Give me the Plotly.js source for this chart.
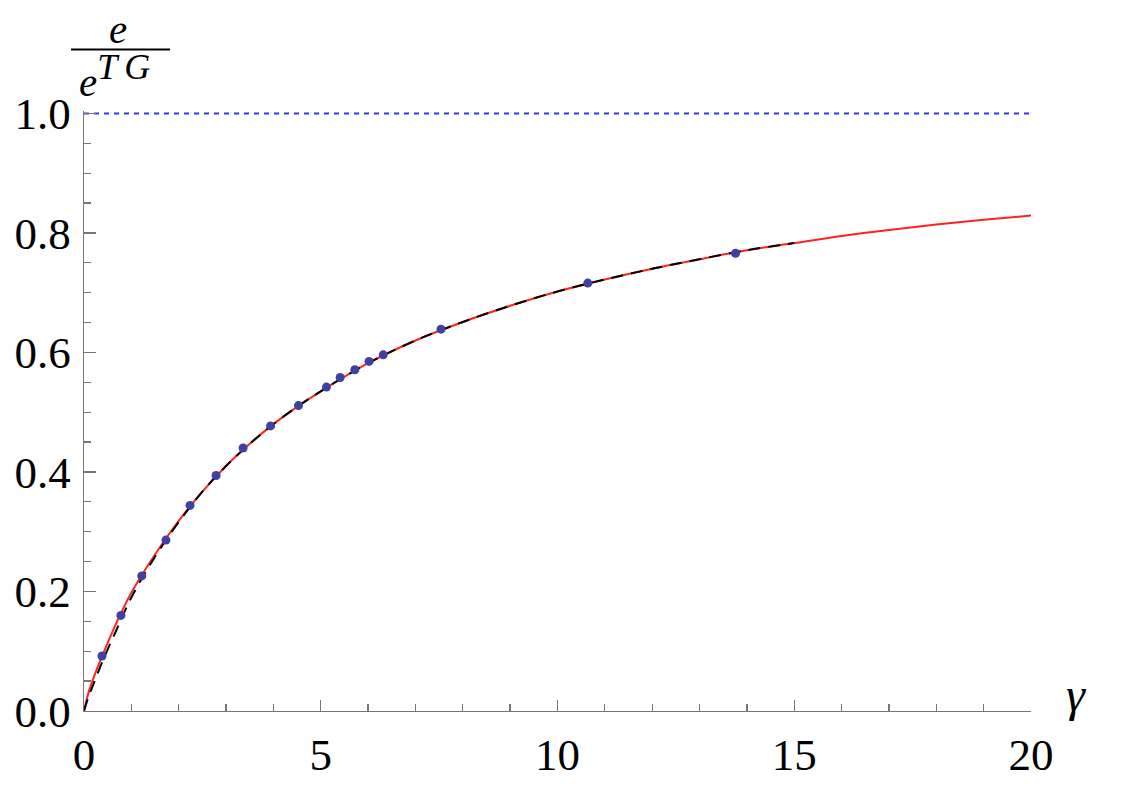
<!DOCTYPE html>
<html>
<head>
<meta charset="utf-8">
<script src="https://cdn.plot.ly/plotly-3.0.1.min.js"></script>
<style>html,body{margin:0;padding:0;background:#fff}#chart{width:1123px;height:794px}</style>
</head>
<body>
<div id="chart"></div>
<script>
// Red solid curve
const redX = [0, 0.1, 0.2, 0.4, 0.7, 1.0, 1.5, 2.0, 2.5, 3.0, 3.5, 4.0, 4.5, 5.0, 6.0, 7.0, 8.0, 9.0, 10.0, 11.0, 12.0, 13.0, 14.0, 15.0, 16.0, 17.0, 18.0, 19.0, 20.0];
const redY = [0, 0.032, 0.055, 0.095, 0.150, 0.198, 0.262, 0.318, 0.367, 0.410, 0.447, 0.480, 0.509, 0.535, 0.582, 0.620, 0.651, 0.678, 0.702, 0.722, 0.740, 0.756, 0.771, 0.783, 0.795, 0.805, 0.814, 0.822, 0.829];
// Black dashed curve, ends at gamma = 15
const blackX = [0, 0.1, 0.2, 0.4, 0.7, 1.0, 1.5, 2.0, 2.5, 3.0, 3.5, 4.0, 4.5, 5.0, 6.0, 7.0, 8.0, 9.0, 10.0, 11.0, 12.0, 13.0, 14.0, 15.0];
const blackY = [0, 0.025, 0.045, 0.085, 0.138, 0.190, 0.258, 0.316, 0.367, 0.410, 0.447, 0.480, 0.509, 0.535, 0.582, 0.620, 0.651, 0.678, 0.702, 0.722, 0.740, 0.756, 0.771, 0.783];
// Blue data points
const ptsX = [0.38, 0.78, 1.22, 1.73, 2.24, 2.79, 3.36, 3.94, 4.53, 5.12, 5.41, 5.72, 6.02, 6.32, 7.54, 10.64, 13.76];
const ptsY = [0.092, 0.160, 0.226, 0.286, 0.344, 0.394, 0.440, 0.477, 0.511, 0.542, 0.558, 0.571, 0.585, 0.596, 0.639, 0.716, 0.766];
// Reference line at 1
const refX = [0, 20];
const refY = [1, 1];
// Ticks
const xTicks = [0, 5, 10, 15, 20];
const xTickText = ['0', '5', '10', '15', '20'];
const yTicks = [0, 0.2, 0.4, 0.6, 0.8, 1.0];
const yTickText = ['0.0', '0.2', '0.4', '0.6', '0.8', '1.0'];

function draw() {
  const axisColor = '#777777';
  const traces = [
    {x: refX, y: refY, mode: 'lines', line: {color: '#3333f5', width: 2, dash: '5px,5px'}, hoverinfo: 'skip'},
    {x: redX, y: redY, mode: 'lines', line: {color: '#ff2222', width: 2, shape: 'spline'}},
    {x: blackX, y: blackY, mode: 'lines', line: {color: '#000000', width: 2, shape: 'spline', dash: '12px,8px'}},
    {x: ptsX, y: ptsY, mode: 'markers', marker: {color: '#4040a0', size: 9}}
  ];

  const L = 84, R = 1031, B = 711, H = 598;
  const W = R - L;
  const YTOP = 1.004;
  const px = v => (v - L) / W;
  const py = v => (B - v) / (H * YTOP);

  const layout = {
    width: 1123, height: 794,
    margin: {l: L, r: 1123 - R, t: B - H * YTOP, b: 794 - B, pad: 0},
    showlegend: false,
    paper_bgcolor: '#ffffff', plot_bgcolor: '#ffffff',
    xaxis: {
      range: [0, 20], showgrid: false, zeroline: false,
      showline: true, linecolor: axisColor, linewidth: 1.3,
      ticks: 'inside', ticklen: 11, tickwidth: 1.3, tickcolor: axisColor,
      tickvals: xTicks, ticktext: xTickText,
      tickfont: {family: 'Liberation Serif', size: 45, color: '#000000'},
      ticklabelstandoff: 4,
      minor: {dtick: 1, tick0: 0, ticks: 'inside', ticklen: 7, tickwidth: 1.3, tickcolor: axisColor, showgrid: false}
    },
    yaxis: {
      range: [0, YTOP], showgrid: false, zeroline: false,
      showline: true, linecolor: axisColor, linewidth: 1.3,
      ticks: 'inside', ticklen: 12, tickwidth: 1.3, tickcolor: axisColor,
      tickvals: yTicks, ticktext: yTickText,
      tickfont: {family: 'Liberation Serif', size: 45, color: '#000000'},
      ticklabelstandoff: 3,
      minor: {dtick: 0.05, tick0: 0, ticks: 'inside', ticklen: 7, tickwidth: 1.3, tickcolor: axisColor, showgrid: false}
    },
    annotations: [
      {xref: 'paper', yref: 'paper', x: px(118), y: py(55), showarrow: false,
       text: '<i>e</i><br><i>e</i><sup><span style="font-size:36px;letter-spacing:7px"><i>TG</i></span></sup>',
       font: {family: 'Liberation Serif', size: 41, color: '#000000'}, xanchor: 'center', yanchor: 'middle', align: 'center'},
      {xref: 'paper', yref: 'paper', x: px(1076), y: py(694), text: '<i>γ</i>', showarrow: false,
       font: {family: 'Liberation Serif', size: 48, color: '#000000'}, xanchor: 'center', yanchor: 'middle'}
    ],
    shapes: [
      {type: 'line', xref: 'paper', yref: 'paper', x0: px(71), x1: px(170), y0: py(49), y1: py(49),
       line: {color: '#000000', width: 2}}
    ]
  };

  Plotly.newPlot('chart', traces, layout, {displayModeBar: false, staticPlot: true});
}

let drawn = false;
function go(){ if (!drawn) { drawn = true; draw(); } }
if (document.fonts && document.fonts.load) {
  Promise.all([
    document.fonts.load('45px "Liberation Serif"', '0.8'),
    document.fonts.load('italic 45px "Liberation Serif"', 'eγTG')
  ]).then(go, go);
  setTimeout(go, 1500);
} else {
  go();
}
</script>
</body>
</html>
